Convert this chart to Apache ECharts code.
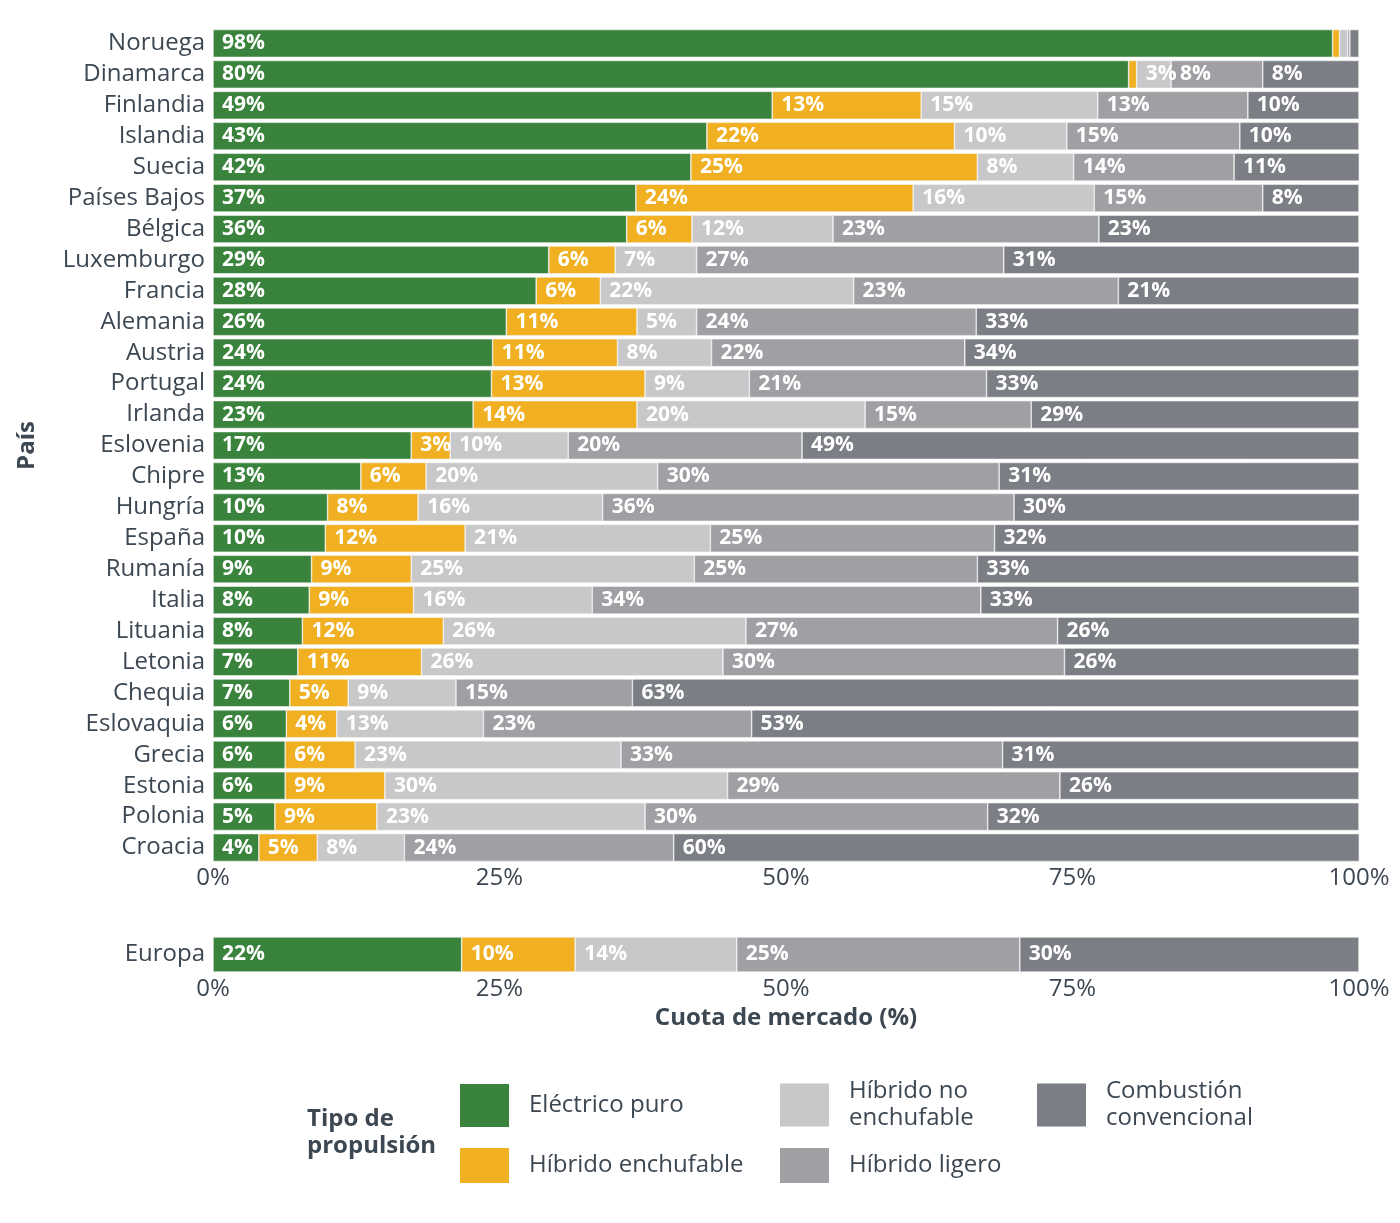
<!DOCTYPE html>
<html>
<head>
<meta charset="utf-8">
<script src="https://cdn.jsdelivr.net/npm/echarts@6/dist/echarts.min.js"></script>
<style>
  html, body { margin: 0; padding: 0; background: #fff; }
  #chart { width: 1400px; height: 1223px; }
</style>
</head>
<body>
<div id="chart"></div>
<script>
// Datos (cuota de mercado, %)
const paises = ['Noruega', 'Dinamarca', 'Finlandia', 'Islandia', 'Suecia', 'Países Bajos', 'Bélgica',
  'Luxemburgo', 'Francia', 'Alemania', 'Austria', 'Portugal', 'Irlanda', 'Eslovenia', 'Chipre',
  'Hungría', 'España', 'Rumanía', 'Italia', 'Lituania', 'Letonia', 'Chequia', 'Eslovaquia',
  'Grecia', 'Estonia', 'Polonia', 'Croacia'];
const electrico = [97.7, 79.9, 48.8, 43.1, 41.7, 36.9, 36.1, 29.3, 28.2, 25.6, 24.4, 24.3, 22.7, 17.3,
  12.9, 10.0, 9.8, 8.6, 8.4, 7.8, 7.4, 6.7, 6.4, 6.3, 6.3, 5.4, 4.0];
const enchufable = [0.6, 0.7, 13.0, 21.6, 25.0, 24.2, 5.7, 5.8, 5.6, 11.4, 10.9, 13.4, 14.3, 3.4,
  5.7, 7.9, 12.2, 8.7, 9.1, 12.3, 10.8, 5.1, 4.4, 6.1, 8.7, 8.9, 5.1];
const noEnchufable = [0.7, 3.0, 15.4, 9.8, 8.4, 15.8, 12.3, 7.1, 22.1, 5.2, 8.2, 9.1, 19.9, 10.3,
  20.2, 16.1, 21.4, 24.7, 15.6, 26.4, 26.3, 9.4, 12.8, 23.2, 29.9, 23.4, 7.6];
const ligero = [0.2, 8.0, 13.1, 15.1, 14.0, 14.7, 23.2, 26.8, 23.1, 24.4, 22.1, 20.7, 14.5, 20.4,
  29.8, 35.9, 24.8, 24.7, 33.9, 27.2, 29.8, 15.4, 23.4, 33.3, 29.0, 29.9, 23.5];
const combustion = [0.8, 8.4, 9.7, 10.4, 11.0, 8.4, 22.7, 31.1, 21.0, 33.4, 34.4, 32.5, 28.6, 48.6,
  31.4, 30.2, 31.8, 33.3, 33.1, 26.4, 25.7, 63.4, 53.0, 31.1, 26.1, 32.4, 59.9];

const europa = ['Europa'];
const europaValores = [21.7, 9.9, 14.1, 24.7, 29.6];

const tipos = ['Eléctrico puro', 'Híbrido enchufable', 'Híbrido no enchufable', 'Híbrido ligero', 'Combustión convencional'];
const colores = ['#3a833c', '#f0b021', '#c8c8ca', '#a09fa4', '#7c7e85'];
const ticksX = [0, 25, 50, 75, 100];

const FUENTE = '"Open Sans", sans-serif';
const TEXTO = '#3c4752';

const etiqueta = {
  show: true,
  position: 'insideLeft',
  distance: 9,
  color: '#fff',
  fontWeight: 'bold',
  fontSize: 21,
  fontFamily: FUENTE,
  formatter: p => (p.value >= 2.5 ? Math.round(p.value) + '%' : '')
};

const valoresPaises = [electrico, enchufable, noEnchufable, ligero, combustion];

const series = [];
tipos.forEach((t, i) => {
  series.push({
    name: t, type: 'bar', stack: 'pais', xAxisIndex: 0, yAxisIndex: 0,
    barCategoryGap: '10%',
    itemStyle: { color: colores[i], borderColor: '#f4f4f4', borderWidth: 0.6 },
    label: etiqueta,
    data: valoresPaises[i]
  });
});
tipos.forEach((t, i) => {
  series.push({
    name: t, type: 'bar', stack: 'europa', xAxisIndex: 1, yAxisIndex: 1,
    barCategoryGap: '10%',
    itemStyle: { color: colores[i], borderColor: '#f4f4f4', borderWidth: 0.6 },
    label: etiqueta,
    data: [europaValores[i]]
  });
});

const ejeX = (extra) => Object.assign({
  type: 'value', min: ticksX[0], max: ticksX[ticksX.length - 1], interval: 25,
  axisLine: { show: false }, axisTick: { show: false }, splitLine: { show: false },
  axisLabel: { formatter: '{value}%', fontSize: 24, color: TEXTO, fontFamily: FUENTE, margin: 3 }
}, extra);

const ejeY = (data, extra) => Object.assign({
  type: 'category', data: data, inverse: true,
  axisLine: { show: false }, axisTick: { show: false },
  axisLabel: { fontSize: 24, color: TEXTO, fontFamily: FUENTE, margin: 8, interval: 0, hideOverlap: false }
}, extra);

const leyenda = (nombre, left, top, alto) => ({
  data: [nombre],
  left: left, top: top, padding: 0,
  itemWidth: 49, itemHeight: alto,
  icon: 'rect',
  selectedMode: false,
  itemStyle: { borderWidth: 0 },
  formatter: n => n.replace('Híbrido no enchufable', 'Híbrido no\nenchufable')
                   .replace('Combustión convencional', 'Combustión\nconvencional'),
  textStyle: { fontSize: 24, color: TEXTO, fontFamily: FUENTE, lineHeight: 27, padding: [0, 0, 0, 15] }
});

const chart = echarts.init(document.getElementById('chart'));
chart.setOption({
  animation: false,
  textStyle: { fontFamily: FUENTE },
  title: {
    text: 'Tipo de\npropulsión', left: 307, top: 1106, padding: 0,
    textStyle: { fontSize: 24, fontWeight: 'bold', color: TEXTO, lineHeight: 27, fontFamily: FUENTE }
  },
  legend: [
    leyenda(tipos[0], 460, 1084, 43),
    leyenda(tipos[2], 780, 1078, 43),
    leyenda(tipos[4], 1037, 1078, 43),
    leyenda(tipos[1], 460, 1148, 35),
    leyenda(tipos[3], 780, 1148, 35)
  ],
  grid: [
    { left: 213, right: 41, top: 28, height: 835 },
    { left: 213, right: 41, top: 935, height: 39 }
  ],
  xAxis: [
    ejeX({ gridIndex: 0 }),
    ejeX({
      gridIndex: 1, name: 'Cuota de mercado (%)', nameLocation: 'middle', nameGap: 32,
      nameTextStyle: { fontSize: 24, fontWeight: 'bold', color: TEXTO, fontFamily: FUENTE }
    })
  ],
  yAxis: [
    ejeY(paises, {
      gridIndex: 0, name: 'País', nameLocation: 'middle', nameGap: 174, nameRotate: 90,
      nameTextStyle: { fontSize: 24, fontWeight: 'bold', color: TEXTO, fontFamily: FUENTE }
    }),
    ejeY(europa, { gridIndex: 1 })
  ],
  series: series
});
</script>
</body>
</html>
